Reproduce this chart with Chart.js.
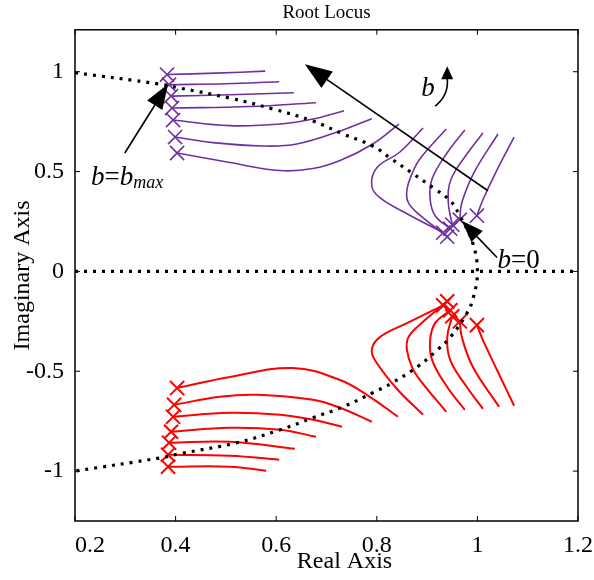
<!DOCTYPE html>
<html>
<head>
<meta charset="utf-8">
<script src="https://cdn.jsdelivr.net/npm/chart.js@4.4.1/dist/chart.umd.min.js"></script>
<style>
  html, body { margin: 0; padding: 0; background: #fff; }
</style>
</head>
<body>
<canvas id="myChart" width="594" height="580"></canvas>
<script>
const xTicks = [0.2, 0.4, 0.6, 0.8, 1, 1.2]
const yTicks = [-1, -0.5, 0, 0.5, 1]

// dotted locus, from top left round through (1,0) to bottom left
const dottedCurve = [[0.2, 0.995], [0.369, 0.938], [0.409, 0.918], [0.508, 0.868], [0.594, 0.813],
  [0.673, 0.753], [0.733, 0.688], [0.792, 0.628], [0.826, 0.569], [0.872, 0.489], [0.912, 0.419],
  [0.946, 0.354], [0.965, 0.279], [0.991, 0.14], [1.0, 0], [0.992, -0.13], [0.979, -0.21],
  [0.946, -0.33], [0.92, -0.394], [0.88, -0.479], [0.83, -0.559], [0.792, -0.608], [0.733, -0.678],
  [0.673, -0.733], [0.608, -0.793], [0.522, -0.858], [0.409, -0.913], [0.372, -0.933], [0.2, -1.0]]
const zeroLine = [[0.2, 0], [1.2, 0]]

// upper (purple) branches
const purpleLeftBranches = [
  [[0.383, 0.986], [0.48, 0.993], [0.578, 1.003]],
  [[0.387, 0.935], [0.5, 0.94], [0.606, 0.95]],
  [[0.391, 0.878], [0.508, 0.885], [0.635, 0.895]],
  [[0.393, 0.818], [0.548, 0.826], [0.679, 0.845]],
  [[0.395, 0.758], [0.508, 0.73], [0.608, 0.738], [0.673, 0.763], [0.735, 0.805]],
  [[0.399, 0.673], [0.474, 0.645], [0.574, 0.628], [0.641, 0.638], [0.727, 0.703], [0.79, 0.765]],
  [[0.403, 0.593], [0.508, 0.545], [0.608, 0.505], [0.673, 0.515], [0.727, 0.555], [0.792, 0.638], [0.844, 0.738]]
]
const purpleRightBranches = [
  [[0.932, 0.194], [0.86, 0.289], [0.806, 0.369], [0.79, 0.429], [0.8, 0.519], [0.846, 0.598], [0.892, 0.718]],
  [[0.94, 0.174], [0.88, 0.294], [0.862, 0.349], [0.86, 0.409], [0.87, 0.489], [0.886, 0.564], [0.938, 0.713]],
  [[0.946, 0.214], [0.916, 0.279], [0.906, 0.364], [0.91, 0.464], [0.94, 0.594], [0.975, 0.708]],
  [[0.95, 0.234], [0.942, 0.349], [0.948, 0.464], [0.981, 0.594], [1.011, 0.693]],
  [[0.965, 0.259], [0.969, 0.344], [0.993, 0.494], [1.041, 0.688]],
  [[0.999, 0.279], [1.011, 0.359], [1.039, 0.509], [1.073, 0.673]]
]

// lower (red) branches
const redLeftBranches = [
  [[0.403, -0.584], [0.508, -0.529], [0.633, -0.484], [0.727, -0.544], [0.786, -0.628], [0.842, -0.728]],
  [[0.397, -0.668], [0.488, -0.628], [0.562, -0.618], [0.673, -0.643], [0.727, -0.683], [0.79, -0.753]],
  [[0.395, -0.728], [0.508, -0.708], [0.608, -0.718], [0.673, -0.743], [0.731, -0.778]],
  [[0.391, -0.803], [0.508, -0.783], [0.608, -0.793], [0.679, -0.828]],
  [[0.387, -0.858], [0.508, -0.853], [0.637, -0.888]],
  [[0.385, -0.918], [0.508, -0.923], [0.606, -0.943]],
  [[0.385, -0.978], [0.508, -0.978], [0.58, -0.998]]
]
const redRightBranches = [
  [[0.932, -0.17], [0.86, -0.259], [0.806, -0.329], [0.79, -0.394], [0.8, -0.459], [0.842, -0.594], [0.892, -0.718]],
  [[0.94, -0.15], [0.88, -0.279], [0.862, -0.334], [0.86, -0.394], [0.87, -0.479], [0.886, -0.544], [0.938, -0.703]],
  [[0.946, -0.195], [0.916, -0.259], [0.906, -0.344], [0.91, -0.444], [0.94, -0.579], [0.975, -0.693]],
  [[0.95, -0.225], [0.94, -0.329], [0.946, -0.444], [0.979, -0.579], [1.011, -0.688]],
  [[0.965, -0.25], [0.969, -0.329], [0.991, -0.479], [1.043, -0.678]],
  [[0.999, -0.269], [1.011, -0.344], [1.039, -0.494], [1.073, -0.673]]
]

// annotation anchors (data units)
const bigArrow = [[1.021, 0.404], [0.657, 1.037]]
const bmaxArrow = [[0.299, 0.593], [0.385, 0.938]]
const bZeroArrow = [[1.039, 0.07], [0.969, 0.254]]
const bCurve = [[0.916, 0.828], [0.944, 0.885], [0.94, 1.027]]
const bLabel = [0.902, 0.913]
const bZeroLabel = [1.04, 0.055]
const bmaxLabel = [0.232, 0.469]

const PURPLE = '#7030A0'
const RED = '#FF0000'
const SERIF = "'Liberation Serif', 'Times New Roman', serif"

const pts = arr => arr.map(p => ({x: p[0], y: p[1]}))

const datasets = []
datasets.push({data: pts(zeroLine), showLine: true, borderColor: '#000', borderWidth: 3.2, borderDash: [3, 6], pointRadius: 0})
datasets.push({data: pts(dottedCurve), showLine: true, borderColor: '#000', borderWidth: 3.2, borderDash: [3, 6], pointRadius: 0, tension: 0.4})

function addBranches(list, color, width) {
    list.forEach(b => {
        datasets.push({data: pts(b), showLine: true, borderColor: color, borderWidth: width, pointRadius: 0, tension: 0.4})
    })
    datasets.push({
        data: pts(list.map(b => b[0])), showLine: false, pointStyle: 'crossRot',
        pointRadius: 10, borderColor: color, borderWidth: width, backgroundColor: color
    })
}
addBranches(purpleLeftBranches, PURPLE, 1.6)
addBranches(purpleRightBranches, PURPLE, 1.6)
addBranches(redLeftBranches, RED, 2)
addBranches(redRightBranches, RED, 2)

function arrow(ctx, x0, y0, x1, y1, len, half) {
    const a = Math.atan2(y1 - y0, x1 - x0)
    const bx = x1 - len * Math.cos(a), by = y1 - len * Math.sin(a)
    ctx.beginPath()
    ctx.moveTo(x0, y0)
    ctx.lineTo(bx, by)
    ctx.stroke()
    ctx.beginPath()
    ctx.moveTo(x1, y1)
    ctx.lineTo(bx + half * Math.sin(a), by - half * Math.cos(a))
    ctx.lineTo(bx - half * Math.sin(a), by + half * Math.cos(a))
    ctx.closePath()
    ctx.fill()
}

function drawRich(ctx, parts, x, y) {
    ctx.textAlign = 'left'
    ctx.textBaseline = 'middle'
    parts.forEach(p => {
        ctx.font = (p.italic ? 'italic ' : '') + p.size + 'px ' + SERIF
        ctx.fillText(p.t, x, y + (p.dy || 0))
        x += ctx.measureText(p.t).width
    })
}

const decor = {
    id: 'decor',
    afterDraw(chart) {
        const {ctx, chartArea: a, scales: {x, y}} = chart
        const px = p => [x.getPixelForValue(p[0]), y.getPixelForValue(p[1])]
        ctx.save()
        // frame + inward ticks
        ctx.strokeStyle = '#000'
        ctx.lineWidth = 1.5
        ctx.strokeRect(a.left, a.top, a.right - a.left, a.bottom - a.top)
        ctx.lineWidth = 1
        ctx.beginPath()
        xTicks.forEach(v => {
            const X = x.getPixelForValue(v)
            ctx.moveTo(X, a.bottom); ctx.lineTo(X, a.bottom - 5)
            ctx.moveTo(X, a.top); ctx.lineTo(X, a.top + 5)
        })
        yTicks.forEach(v => {
            const Y = y.getPixelForValue(v)
            ctx.moveTo(a.left, Y); ctx.lineTo(a.left + 5, Y)
            ctx.moveTo(a.right, Y); ctx.lineTo(a.right - 5, Y)
        })
        ctx.stroke()

        // arrows
        ctx.fillStyle = '#000'
        ctx.lineWidth = 1.6
        let p0 = px(bigArrow[0]), p1 = px(bigArrow[1])
        arrow(ctx, p0[0], p0[1], p1[0], p1[1], 27, 10)
        p0 = px(bmaxArrow[0]); p1 = px(bmaxArrow[1])
        arrow(ctx, p0[0], p0[1], p1[0], p1[1], 25, 9)
        p0 = px(bZeroArrow[0]); p1 = px(bZeroArrow[1])
        arrow(ctx, p0[0], p0[1], p1[0], p1[1], 22, 8)

        const c0 = px(bCurve[0]), c1 = px(bCurve[1]), c2 = px(bCurve[2])
        ctx.beginPath()
        ctx.moveTo(c0[0], c0[1])
        ctx.quadraticCurveTo(c1[0], c1[1], c2[0], c2[1] + 12)
        ctx.stroke()
        ctx.beginPath()
        ctx.moveTo(c2[0], c2[1])
        ctx.lineTo(c2[0] - 6, c2[1] + 13)
        ctx.lineTo(c2[0] + 6, c2[1] + 13)
        ctx.closePath()
        ctx.fill()

        // labels
        let l = px(bLabel)
        ctx.font = 'italic 27px ' + SERIF
        ctx.textAlign = 'center'
        ctx.textBaseline = 'middle'
        ctx.fillText('b', l[0], l[1])
        l = px(bZeroLabel)
        drawRich(ctx, [{t: 'b', italic: true, size: 27}, {t: '=0', size: 27}], l[0], l[1])
        l = px(bmaxLabel)
        drawRich(ctx, [{t: 'b', italic: true, size: 27}, {t: '=', size: 27}, {t: 'b', italic: true, size: 27},
            {t: 'max', italic: true, size: 18, dy: 6}], l[0], l[1])
        ctx.restore()
    }
}

const config = {
    type: 'scatter',
    data: {datasets: datasets},
    options: {
        responsive: false,
        animation: false,
        layout: {padding: {left: 0, right: 16, top: 0, bottom: 0}},
        plugins: {
            legend: {display: false},
            tooltip: {enabled: false},
            title: {
                display: true, text: 'Root Locus', color: '#000', fullSize: false,
                font: {family: SERIF, size: 19, weight: 'normal'},
                padding: {top: 2, bottom: 5}
            }
        },
        scales: {
            x: {
                type: 'linear', min: 0.2, max: 1.2,
                afterBuildTicks: s => { s.ticks = xTicks.map(v => ({value: v})) },
                afterFit: s => { s.height = 59; s.paddingLeft = 0; s.paddingRight = 0 },
                grid: {display: false, drawTicks: false},
                border: {display: false},
                ticks: {color: '#000', padding: 10, font: {family: SERIF, size: 24},
                    callback: v => (v === 0.2 ? '\u2002\u2002 ' : '') + String(v)},
                title: {display: true, text: '\u2003\u2002Real Axis', color: '#000', font: {family: SERIF, size: 24}, padding: {top: 0, bottom: 4}}
            },
            y: {
                type: 'linear', min: -1.25, max: 1.21,
                afterBuildTicks: s => { s.ticks = yTicks.map(v => ({value: v})) },
                afterFit: s => { s.width = 75; s.paddingTop = 0; s.paddingBottom = 0 },
                grid: {display: false, drawTicks: false},
                border: {display: false},
                ticks: {color: '#000', padding: 11, font: {family: SERIF, size: 24}, callback: v => String(v)},
                title: {display: true, text: 'Imaginary Axis', color: '#000', font: {family: SERIF, size: 24}, padding: {top: 8, bottom: 0}}
            }
        }
    },
    plugins: [decor]
}

const myChart = new Chart(document.getElementById('myChart'), config)
</script>
</body>
</html>
